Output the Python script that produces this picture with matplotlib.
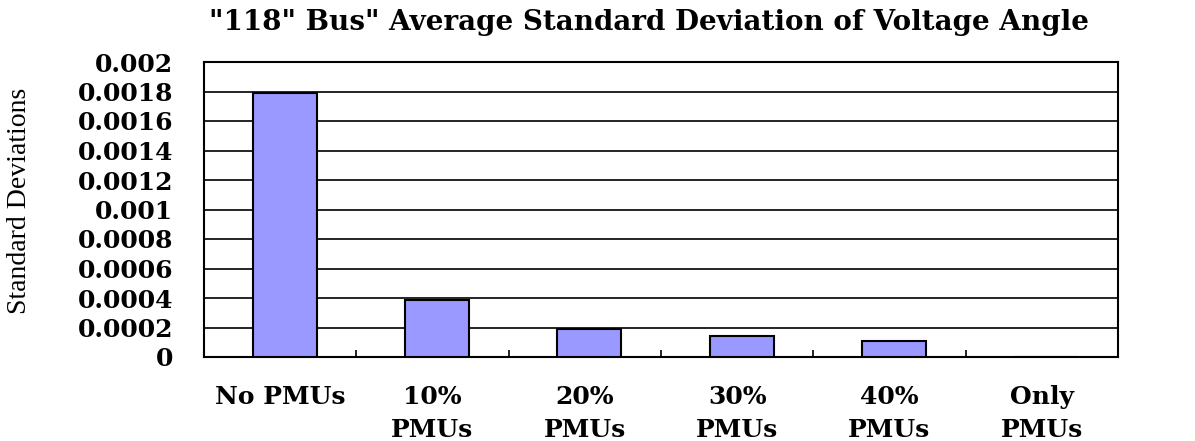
import matplotlib
matplotlib.use('Agg')
import matplotlib.pyplot as plt
import numpy as np

kategorije = ['No PMUs', '10%\nPMUs', '20%\nPMUs', '30%\nPMUs', '40%\nPMUs', 'Only\nPMUs']
odkloni = [0.00179, 0.000386, 0.000192, 0.000143, 0.000108, 0.0]
y_oznake = ['0', '0.0002', '0.0004', '0.0006', '0.0008', '0.001',
            '0.0012', '0.0014', '0.0016', '0.0018', '0.002']
naslov = '"118" Bus" Average Standard Deviation of Voltage Angle'

fig = plt.figure(figsize=[11.95, 4.41], dpi=100)
ax = fig.add_axes([204 / 1195, 1 - 357 / 441, 914 / 1195, 295 / 441])

x = np.arange(len(kategorije))
ax.bar(x + 0.03, odkloni, width=0.42, color='#9999ff', edgecolor='black', linewidth=1.5, zorder=3)

ax.set_xlim(-0.5, len(kategorije) - 0.5)
ax.set_ylim(0, 0.002)
yt = np.linspace(0, 0.002, 11)
ax.set_yticks(yt)
ax.set_yticklabels(y_oznake, fontfamily='DejaVu Serif', fontweight='bold', fontsize=18)
ax.yaxis.grid(True, color='black', linewidth=1.2, zorder=0)
ax.tick_params(axis='y', length=0, pad=22)

ax.set_xticks(x)
ax.set_xticklabels(kategorije, fontfamily='DejaVu Serif', fontweight='bold', fontsize=18,
                   linespacing=1.5)
ax.tick_params(axis='x', length=0, pad=20)
# male oznake med kategorijami
ax.set_xticks(x[:-1] + 0.5, minor=True)
ax.tick_params(axis='x', which='minor', direction='in', length=5, width=1.2)

for s in ax.spines.values():
    s.set_linewidth(1.5)

ax.set_ylabel('Standard Deviations', fontfamily='Liberation Serif', fontsize=20)
ax.yaxis.set_label_coords(-172 / 914, 0.53)

fig.text(649 / 1195, 1 - 22 / 441, naslov, ha='center', va='center',
         fontfamily='DejaVu Serif', fontweight='bold', fontsize=20)

fig.savefig('out.png', dpi=100)
